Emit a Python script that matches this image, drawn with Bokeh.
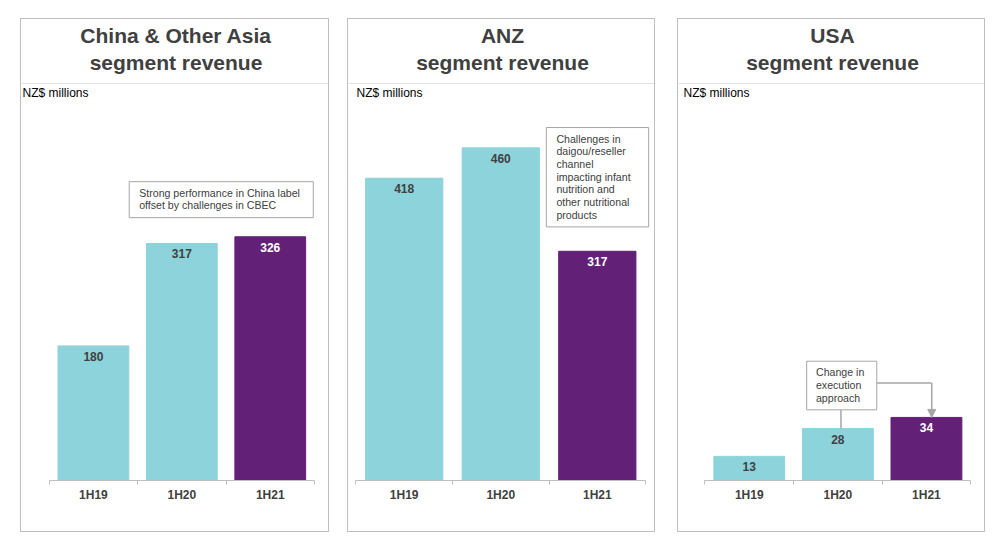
from bokeh.plotting import figure
from bokeh.layouts import row
from bokeh.models import ColumnDataSource, Range1d, FixedTicker, Title, Span, Arrow, NormalHead
from bokeh.core.properties import value
from bokeh.embed import file_html
from bokeh.resources import INLINE

# data
periods = ["1H19", "1H20", "1H21"]
china_revenue = [180, 317, 326]
anz_revenue = [418, 460, 317]
usa_revenue = [13, 28, 34]
bar_colors = ["#8DD3DC", "#8DD3DC", "#622077"]
label_colors = ["#404040", "#404040", "#FFFFFF"]

china_note = "Strong performance in China label\noffset by challenges in CBEC"
anz_note = "Challenges in\ndaigou/reseller\nchannel\nimpacting infant\nnutrition and\nother nutritional\nproducts"
usa_note = "Change in\nexecution\napproach"

FONT = "Liberation Sans"
GREY = "#bfbfbf"
TEXT = "#404040"


def make_panel(name, values, x_range, y_end, width, left_gap, unit_shift):
    p = figure(width=width, height=514, x_range=Range1d(*x_range), y_range=Range1d(0, y_end),
               output_backend="svg", toolbar_location=None, y_axis_location=None, title=None,
               min_border_left=0, min_border_right=0, min_border_top=64, min_border_bottom=53)
    p.styles = {"border": "1px solid " + GREY}
    p.margin = (18, 0, 0, left_gap)
    p.outline_line_color = None
    p.grid.visible = False
    p.background_fill_color = "white"
    p.border_fill_color = "white"

    # two-line header
    p.add_layout(Title(text="segment revenue", align="center", text_font=FONT, text_font_size="21px",
                       text_font_style="bold", text_color=TEXT, standoff=19), "above")
    p.add_layout(Title(text=name, align="center", text_font=FONT, text_font_size="21px",
                       text_font_style="bold", text_color=TEXT, standoff=-15), "above")
    p.add_layout(Span(location=y_end, dimension="width", line_color=GREY, line_width=1))

    p.text(x=[x_range[0]], y=[y_end], text=["NZ$ millions"], x_offset=unit_shift, y_offset=2,
           text_baseline="top", text_font=value(FONT), text_font_size="12px", text_color="black")

    centers = [i + 0.5 for i in range(len(periods))]
    src = ColumnDataSource(data=dict(x=centers, value=values, label=[str(v) for v in values],
                                     color=bar_colors, label_color=label_colors))
    p.vbar(x="x", top="value", bottom=0, width=0.8, color="color", source=src)
    p.text(x="x", y="value", text="label", text_color="label_color", text_align="center",
           text_baseline="top", y_offset=6, text_font=value(FONT), text_font_size="12px",
           text_font_style="bold", source=src)

    ax = p.xaxis[0]
    ax.ticker = FixedTicker(ticks=centers, minor_ticks=list(range(len(periods) + 1)))
    ax.major_label_overrides = {c: per for c, per in zip(centers, periods)}
    ax.bounds = (0, len(periods))
    ax.axis_line_color = GREY
    ax.major_tick_line_color = None
    ax.major_tick_out = 0
    ax.major_tick_in = 0
    ax.minor_tick_line_color = GREY
    ax.minor_tick_out = 4
    ax.minor_tick_in = 0
    ax.major_label_standoff = 3
    ax.major_label_text_font = FONT
    ax.major_label_text_font_size = "12px"
    ax.major_label_text_font_style = "bold"
    ax.major_label_text_color = TEXT
    return p


def add_note(p, note, left, right, bottom, top, text_x):
    p.quad(left=[left], right=[right], bottom=[bottom], top=[top], fill_color="white",
           line_color="#a6a6a6", line_width=1)
    p.text(x=[text_x], y=[top], text=[note], text_baseline="top", y_offset=5,
           text_font=value(FONT), text_font_size="10.6px", text_color=TEXT, text_line_height=1.06)


china = make_panel("China & Other Asia", china_revenue, (-0.313, 3.181), 531, 309, 20, 1)
add_note(china, china_note, 0.905, 2.986, 351.6, 399.7, 1.018)

anz = make_panel("ANZ", anz_revenue, (-0.077, 3.113), 549, 308, 18, 8)
add_note(anz, anz_note, 1.972, 3.032, 350.7, 488.1, 2.076)

usa = make_panel("USA", usa_revenue, (-0.299, 3.178), 214, 308, 22, 5)
usa.line(x=[1.535, 1.535], y=[38.1, usa_revenue[1]], line_color="#a6a6a6", line_width=1.5)
usa.line(x=[1.939, 2.56], y=[52.5, 52.5], line_color="#a6a6a6", line_width=1.5)
usa.add_layout(Arrow(end=NormalHead(size=8, fill_color="#a6a6a6", line_color="#a6a6a6"),
                     x_start=2.56, y_start=52.5, x_end=2.56, y_end=usa_revenue[2],
                     line_color="#a6a6a6", line_width=1.5))
add_note(usa, usa_note, 1.148, 1.939, 38.1, 64.3, 1.253)

layout = row(china, anz, usa)
open("out.html", "w").write(file_html(layout, INLINE))
